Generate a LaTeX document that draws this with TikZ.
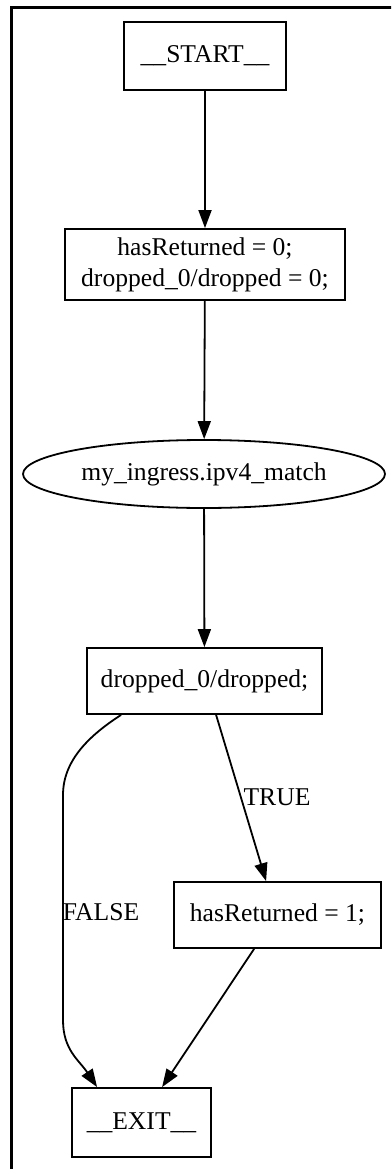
\documentclass[tikz,border=0pt]{standalone}
\usepackage{fontspec}
\setmainfont{Liberation Serif}
\usetikzlibrary{arrows.meta,shapes.geometric}
\begin{document}
\begin{tikzpicture}[x=1pt,y=-1pt,
  every node/.style={font=\fontsize{25.6}{30.7}\selectfont, inner sep=0pt},
  box/.style={draw, line width=1.8pt, rectangle, align=center},
  oval/.style={draw, line width=1.8pt, ellipse},
  edge/.style={line width=1.8pt, -{Triangle[length=18pt,width=13pt]}},
  lbl/.style={}]
\useasboundingbox (0,0) rectangle (391,1169);
\clip (0,0) rectangle (391,1169);
\draw[line width=3.5pt] (11.5,1180) -- (11.5,7.5) -- (400,7.5);
\node[box, minimum width=162pt, minimum height=68pt] (start) at (205,56) {\_\_START\_\_};
\node[box, minimum width=280pt, minimum height=71pt] (init) at (205,264.5) {hasReturned = 0;\\dropped\_0/dropped = 0;};
\node[oval, minimum width=362pt, minimum height=68pt] (match) at (204,474) {my\_ingress.ipv4\_match};
\node[box, minimum width=235pt, minimum height=66pt] (drop) at (204.5,681) {dropped\_0/dropped;};
\node[box, minimum width=207pt, minimum height=66pt] (ret) at (277.5,915) {hasReturned = 1;};
\node[box, minimum width=139pt, minimum height=69pt] (exit) at (141.5,1122.5) {\_\_EXIT\_\_};
\node[lbl] (ltrue) at (277,797) {TRUE};
\node[lbl] (lfalse) at (101,912) {FALSE};
\draw[edge] (start) -- (init);
\draw[edge] (init) -- (match);
\draw[edge] (match) -- (drop);
\draw[edge] ([xshift=130pt]drop.south west) -- ([xshift=93pt]ret.north west);
\draw[edge] ([xshift=35pt]drop.south west) .. controls (90,735) and (63,760) .. (63,795) -- (63,1020) .. controls (63,1050) and (79,1060) .. ([xshift=26pt]exit.north west);
\draw[edge] ([xshift=81pt]ret.south west) -- ([xshift=91pt]exit.north west);
\end{tikzpicture}
\end{document}
